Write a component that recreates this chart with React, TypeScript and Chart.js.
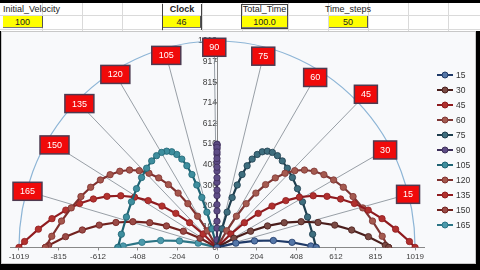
import React, { useEffect, useRef } from 'react';
import { Chart, registerables } from 'chart.js';

Chart.register(...registerables);

// ---- data ----
const ANGLE_LABELS = ['15', '30', '45', '60', '75', '90', '105', '120', '135', '150', '165'];

const x15 = [0, 97, 193, 290, 386, 483, 510];
const y15 = [0, 21, 32, 34, 25, 7, 0];
const x30 = [0, 87, 173, 260, 346, 433, 520, 606, 693, 779, 866, 883];
const y30 = [0, 45, 80, 106, 122, 127, 123, 110, 86, 53, 10, 0];
const x45 = [0, 71, 141, 212, 283, 354, 424, 495, 566, 636, 707, 778, 849, 919, 990, 1019];
const y45 = [0, 66, 122, 168, 204, 231, 248, 255, 252, 239, 217, 184, 142, 90, 29, 0];
const x60 = [0, 50, 100, 150, 200, 250, 300, 350, 400, 450, 500, 550, 600, 650, 700, 750, 800, 850, 883];
const y60 = [0, 82, 154, 216, 268, 310, 343, 366, 379, 382, 376, 359, 333, 297, 251, 195, 130, 55, 0];
const x75 = [0, 26, 52, 78, 104, 129, 155, 181, 207, 233, 259, 285, 311, 336, 362, 388, 414, 440, 466, 492, 510];
const y75 = [0, 92, 174, 246, 308, 360, 403, 436, 459, 472, 475, 469, 453, 427, 391, 345, 290, 225, 150, 65, 0];
const x90 = [0, 0, 0, 0, 0, 0, 0, 0, 0, 0, 0, 0, 0, 0, 0, 0, 0, 0, 0, 0, 0, 0];
const y90 = [0, 95, 180, 256, 322, 377, 423, 460, 486, 503, 510, 507, 494, 471, 439, 396, 344, 283, 211, 129, 38, 0];
const x105 = [0, -26, -52, -78, -104, -129, -155, -181, -207, -233, -259, -285, -311, -336, -362, -388, -414, -440, -466, -492, -510];
const y105 = [0, 92, 174, 246, 308, 360, 403, 436, 459, 472, 475, 469, 453, 427, 391, 345, 290, 225, 150, 65, 0];
const x120 = [0, -50, -100, -150, -200, -250, -300, -350, -400, -450, -500, -550, -600, -650, -700, -750, -800, -850, -883];
const y120 = [0, 82, 154, 216, 268, 310, 343, 366, 379, 382, 376, 359, 333, 297, 251, 195, 130, 55, 0];
const x135 = [0, -71, -141, -212, -283, -354, -424, -495, -566, -636, -707, -778, -849, -919, -990, -1019];
const y135 = [0, 66, 122, 168, 204, 231, 248, 255, 252, 239, 217, 184, 142, 90, 29, 0];
const x150 = [0, -87, -173, -260, -346, -433, -520, -606, -693, -779, -866, -883];
const y150 = [0, 45, 80, 106, 122, 127, 123, 110, 86, 53, 10, 0];
const x165 = [0, -97, -193, -290, -386, -483, -510];
const y165 = [0, 21, 32, 34, 25, 7, 0];

const SERIES_X = [x15, x30, x45, x60, x75, x90, x105, x120, x135, x150, x165];
const SERIES_Y = [y15, y30, y45, y60, y75, y90, y105, y120, y135, y150, y165];

// angle label positions (data units)
const LABEL_X = [983, 865, 766, 505, 238, -14, -261, -523, -708, -836, -975];
const LABEL_Y = [262, 481, 756, 839, 944, 988, 948, 854, 710, 506, 277];

const RANGE = 1019;
const X_TICKS = [-1019, -815, -612, -408, -204, 0, 204, 408, 612, 815, 1019];
const X_TICK_LABELS = ['-1019', '-815', '-612', '-408', '-204', '0', '204', '408', '612', '815', '1019'];
const Y_TICKS = [0, 102, 204, 306, 408, 510, 612, 714, 815, 917, 1019];
const Y_TICK_LABELS = ['0', '102', '204', '306', '408', '510', '612', '714', '815', '917', '1019'];

// styles
const LINE_COLORS = ['#1F3A68', '#4A1E1C', '#8E1A1E', '#7E3634', '#1E3E4E', '#3E2F5A', '#1F6474', '#80302E', '#901C20', '#72221F', '#2C7586'];
const MARKER_COLORS = ['#5577A8', '#7A4A44', '#B0302E', '#A45A50', '#3E6E7E', '#5E4C86', '#3E8E9E', '#A4564C', '#B2322E', '#9A4A46', '#4C9AAC'];

const FONT = '"Liberation Sans", Arial, sans-serif';

const arcPlugin = {
  id: 'arcPlugin',
  beforeDatasetsDraw(chart: any) {
    const { ctx, scales } = chart;
    const cx = scales.x.getPixelForValue(0);
    const cy = scales.y.getPixelForValue(0);
    const rx = Math.abs(scales.x.getPixelForValue(RANGE) - cx);
    const ry = Math.abs(scales.y.getPixelForValue(RANGE) - cy);
    ctx.save();
    ctx.beginPath();
    ctx.ellipse(cx, cy, rx, ry, 0, Math.PI, 2 * Math.PI);
    ctx.strokeStyle = '#8DB5D6';
    ctx.lineWidth = 1.2;
    ctx.stroke();
    ctx.restore();
  },
  afterDatasetsDraw(chart: any) {
    const { ctx, scales } = chart;
    ctx.save();
    ctx.font = `9px ${FONT}`;
    ctx.textAlign = 'center';
    ctx.textBaseline = 'middle';
    ANGLE_LABELS.forEach((lab, i) => {
      const px = scales.x.getPixelForValue(LABEL_X[i]);
      const py = scales.y.getPixelForValue(LABEL_Y[i]);
      const w = lab.length > 2 ? 29 : 23;
      const h = 18;
      ctx.fillStyle = '#F00A0A';
      ctx.fillRect(px - w / 2, py - h / 2, w, h);
      ctx.strokeStyle = '#4E3A50';
      ctx.lineWidth = 1.5;
      ctx.strokeRect(px - w / 2, py - h / 2, w, h);
      ctx.fillStyle = '#FFFFFF';
      ctx.fillText(lab, px, py + 0.5);
    });
    ctx.restore();
  },
  afterDraw(chart: any) {
    const { ctx } = chart;
    ctx.save();
    ctx.font = `8.5px ${FONT}`;
    ctx.textAlign = 'left';
    ctx.textBaseline = 'middle';
    chart.data.datasets.forEach((ds: any, i: number) => {
      if (ds.label.startsWith('_')) return;
      const y = 44 + 15 * i;
      ctx.strokeStyle = ds.borderColor;
      ctx.lineWidth = 2;
      ctx.beginPath();
      ctx.moveTo(437, y);
      ctx.lineTo(453, y);
      ctx.stroke();
      ctx.beginPath();
      ctx.arc(445, y, 3, 0, 2 * Math.PI);
      ctx.fillStyle = ds.pointBackgroundColor;
      ctx.fill();
      ctx.lineWidth = 1;
      ctx.strokeStyle = ds.pointBorderColor;
      ctx.stroke();
      ctx.fillStyle = '#333333';
      ctx.fillText(ds.label, 456, y + 0.5);
    });
    ctx.restore();
  },
};

function ChartCanvas() {
  const ref = useRef<HTMLCanvasElement | null>(null);
  useEffect(() => {
    if (!ref.current) return;
    const trajectories = ANGLE_LABELS.map((lab, i) => ({
      label: lab,
      data: SERIES_X[i].map((x, j) => ({ x, y: SERIES_Y[i][j] })),
      showLine: true,
      borderColor: LINE_COLORS[i],
      backgroundColor: MARKER_COLORS[i],
      pointBackgroundColor: MARKER_COLORS[i],
      pointBorderColor: LINE_COLORS[i],
      pointBorderWidth: 0.8,
      pointRadius: 3.2,
      borderWidth: 2.2,
    }));
    const rays = ANGLE_LABELS.map((lab, i) => ({
      label: '_ray' + lab,
      data: [
        { x: 0, y: 0 },
        { x: LABEL_X[i], y: LABEL_Y[i] },
      ],
      showLine: true,
      borderColor: '#8C949C',
      borderWidth: 0.9,
      pointRadius: 0,
    }));
    const chart = new Chart(ref.current, {
      type: 'scatter',
      data: { datasets: [...trajectories, ...rays] as any },
      options: {
        animation: false,
        responsive: false,
        maintainAspectRatio: false,
        layout: { padding: { left: 10, right: 56, top: 10, bottom: 0 } },
        plugins: { legend: { display: false }, tooltip: { enabled: false } },
        scales: {
          x: {
            type: 'linear',
            min: -1065,
            max: 1065,
            afterBuildTicks: (s: any) => {
              s.ticks = X_TICKS.map((v) => ({ value: v }));
            },
            ticks: {
              autoSkip: false,
              maxRotation: 0,
              padding: 2,
              color: '#404040',
              font: { size: 8, family: FONT },
              callback: (_v: any, i: number) => X_TICK_LABELS[i],
            },
            grid: { drawOnChartArea: false, drawTicks: true, tickLength: 3, color: '#888888' },
            border: { color: '#888888' },
          },
          y: {
            type: 'linear',
            min: 0,
            max: 1019,
            position: { x: 0 } as any,
            afterBuildTicks: (s: any) => {
              s.ticks = Y_TICKS.map((v) => ({ value: v }));
            },
            ticks: {
              autoSkip: false,
              padding: 3,
              color: '#404040',
              font: { size: 8.5, family: FONT },
              callback: (_v: any, i: number) => Y_TICK_LABELS[i],
            },
            grid: { drawOnChartArea: false, drawTicks: true, tickLength: 3, color: '#888888' },
            border: { color: '#888888' },
          },
        },
      },
      plugins: [arcPlugin],
    });
    return () => chart.destroy();
  }, []);
  return <canvas ref={ref} width={480} height={233} style={{ position: 'absolute', left: 0, top: 31, width: 480, height: 233 }} />;
}

const cellText: React.CSSProperties = {
  position: 'absolute',
  fontFamily: FONT,
  fontSize: 9,
  color: '#222',
  lineHeight: '12px',
  whiteSpace: 'nowrap',
};

function Yellow({ left, width, text }: { left: number; width: number; text: string }) {
  return (
    <div
      style={{
        ...cellText,
        left,
        top: 16,
        width,
        height: 12,
        background: '#FFFF00',
        borderRight: '1px solid #555',
        borderBottom: '1px solid #777',
        textAlign: 'center',
        boxSizing: 'border-box',
      }}
    >
      {text}
    </div>
  );
}

export default function App() {
  const gridCols = [42, 82, 122, 162, 202, 242, 288, 328, 368, 408, 448];
  return (
    <div style={{ position: 'fixed', left: 0, top: 0, width: 480, height: 270, background: '#000', overflow: 'hidden' }}>
      <div style={{ position: 'absolute', left: 0, top: 3, width: 480, height: 28, background: '#FFFFFF' }} />
      {gridCols.map((x) => (
        <div key={x} style={{ position: 'absolute', left: x, top: 3, width: 1, height: 28, background: '#DADADA' }} />
      ))}
      <div style={{ position: 'absolute', left: 0, top: 15, width: 480, height: 1, background: '#DADADA' }} />
      <div style={{ position: 'absolute', left: 0, top: 29, width: 480, height: 1, background: '#DADADA' }} />
      {/* dark cell borders */}
      <div style={{ position: 'absolute', left: 162, top: 4, width: 1, height: 26, background: '#444' }} />
      <div style={{ position: 'absolute', left: 201, top: 4, width: 1, height: 26, background: '#444' }} />
      <div style={{ position: 'absolute', left: 241, top: 4, width: 47, height: 25, border: '1px solid #444', boxSizing: 'border-box' }} />
      <div style={{ ...cellText, left: 3, top: 3 }}>Initial_Velocity</div>
      <div style={{ ...cellText, left: 162, top: 3, width: 40, textAlign: 'center', fontWeight: 'bold' }}>Clock</div>
      <div style={{ ...cellText, left: 241, top: 3, width: 47, textAlign: 'center' }}>Total_Time</div>
      <div style={{ ...cellText, left: 322, top: 3, width: 52, textAlign: 'center' }}>Time_steps</div>
      <Yellow left={3} width={40} text="100" />
      <Yellow left={163} width={38} text="46" />
      <Yellow left={242} width={46} text="100.0" />
      <Yellow left={329} width={39} text="50" />
      {/* chart frame */}
      <div
        style={{
          position: 'absolute',
          left: 1,
          top: 31,
          width: 475,
          height: 233,
          background: '#F8F9FB',
          border: '1px solid #C8C8C8',
          boxSizing: 'border-box',
        }}
      />
      <ChartCanvas />
    </div>
  );
}
